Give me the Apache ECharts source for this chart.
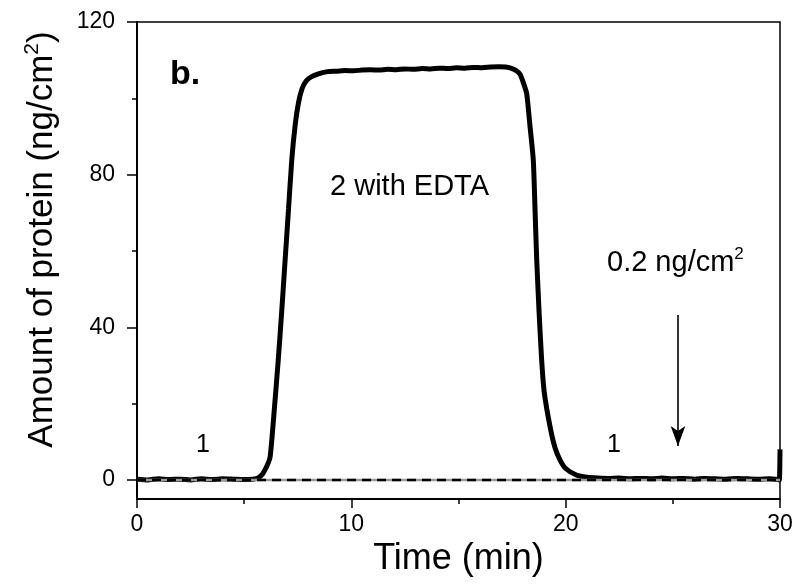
<!DOCTYPE html>
<html>
<head>
<meta charset="utf-8">
<script src="https://cdn.jsdelivr.net/npm/echarts@6/dist/echarts.min.js"></script>
<style>
  html, body { margin: 0; padding: 0; background: #fff; }
  #chart { width: 802px; height: 586px; }
</style>
</head>
<body>
<div id="chart"></div>
<script>
// Adsorbed protein trace: baseline (1), injection with EDTA (2), rinse back to baseline (1)
const timeMin = [
  0, 0.5, 1, 1.5, 2, 2.5, 3, 3.5, 4, 4.5, 5, 5.4, 5.65, 5.85, 6.05, 6.21, 6.4, 6.59, 6.75,
  6.91, 7.07, 7.22, 7.38, 7.53, 7.7, 7.9, 8.15, 8.5, 8.9, 9.3, 9.7, 10.1, 10.5, 10.9, 11.3,
  11.7, 12.1, 12.5, 12.9, 13.3, 13.7, 14.1, 14.5, 14.9, 15.3, 15.7, 16.1, 16.5, 16.9, 17.2,
  17.5, 17.7, 17.87, 18.0, 18.18, 18.33, 18.49, 18.57, 18.65, 18.76, 18.88, 19.0, 19.27,
  19.5, 19.74, 20.0, 20.5, 21.0, 21.5, 22, 22.5, 23, 23.5, 24, 24.5, 25, 25.5, 26, 26.5,
  27, 27.5, 28, 28.5, 29, 29.5, 29.9, 29.97, 30
];
const protein = [
  0.2, 0.0, 0.3, 0.1, 0.2, 0.0, 0.3, 0.1, 0.3, 0.2, 0.1, 0.2, 0.5, 1.5, 3.5, 6.0, 18, 31.4, 44,
  57.6, 71, 83.8, 93, 98.7, 102.5, 104.6, 105.7, 106.5, 107.0, 107.1, 107.3, 107.2, 107.4, 107.5, 107.4,
  107.6, 107.5, 107.7, 107.6, 107.8, 107.7, 107.9, 107.8, 108.0, 107.9, 108.1, 108.0, 108.2, 108.3, 108.2,
  107.8, 107.2, 106.3, 104.5, 101.3, 93, 83.8, 71, 57.6, 44, 31.4, 23, 14,
  8.5, 5.2, 3.0, 1.3, 0.7, 0.5, 0.4, 0.5, 0.3, 0.4, 0.3, 0.5, 0.3, 0.4, 0.2, 0.4,
  0.3, 0.2, 0.4, 0.3, 0.2, 0.3, 0.1, 0.0, 8
];

// Axis ticks
const xMajorTicks = [0, 10, 20, 30];
const yMajorTicks = [0, 40, 80, 120];
const yMinorTicks = [20, 60, 100];

// Annotation arrow (time, amount) start and tip
const arrowTime = 25.24;
const arrowFrom = 43.2;
const arrowTo = 8.9;

const FONT = '"Liberation Sans", Arial, sans-serif';

const chart = echarts.init(document.getElementById('chart'), null, { renderer: 'canvas' });

const traceData = timeMin.map((t, i) => [t, protein[i]]);

// Tick numbers are drawn through a rich style so their size is explicit
const tickRich = {
  v: { fontFamily: FONT, fontSize: 23, color: '#000', lineHeight: 26 }
};

const option = {
  animation: false,
  backgroundColor: '#fff',
  textStyle: { fontFamily: FONT },
  grid: {
    left: 137, right: 22, top: 22, bottom: 87,
    show: true, borderColor: '#000', borderWidth: 1.5, backgroundColor: 'transparent'
  },
  xAxis: {
    type: 'value', min: 0, max: 30, interval: 10,
    name: 'Time (min)', nameLocation: 'middle', nameGap: 40,
    nameTextStyle: { fontFamily: FONT, fontSize: 36, color: '#000' },
    axisLine: { show: true, onZero: false, lineStyle: { color: '#000', width: 2 } },
    axisTick: { show: true, inside: false, length: 9, lineStyle: { color: '#000', width: 1.5 } },
    minorTick: { show: true, splitNumber: 2, length: 5, lineStyle: { color: '#000', width: 1.5 } },
    axisLabel: {
      margin: 13, fontSize: 23, color: '#000',
      formatter: v => '{v|' + v + '}', rich: tickRich
    },
    splitLine: { show: false }, minorSplitLine: { show: false }
  },
  yAxis: [
    {
      type: 'value', min: -5, max: 120,
      name: '{t|Amount of protein (ng/cm}{s|2}{t|)}',
      nameLocation: 'middle', nameGap: 75,
      nameTextStyle: {
        color: '#000', padding: [0, 0, 0, 42],
        rich: {
          t: { fontFamily: FONT, fontSize: 35, color: '#000', lineHeight: 40 },
          s: { fontFamily: FONT, fontSize: 21, color: '#000', lineHeight: 40, verticalAlign: 'top' }
        }
      },
      axisLine: { show: true, onZero: false, lineStyle: { color: '#000', width: 2 } },
      axisTick: { show: true, inside: false, length: 10, customValues: yMajorTicks,
                  lineStyle: { color: '#000', width: 1.5 } },
      axisLabel: {
        margin: 22, fontSize: 23, color: '#000', customValues: yMajorTicks,
        formatter: v => '{v|' + v + '}', rich: tickRich
      },
      splitLine: { show: false }
    },
    {
      type: 'value', min: -5, max: 120, position: 'left',
      axisLine: { show: false },
      axisTick: { show: true, inside: false, length: 5, customValues: yMinorTicks,
                  lineStyle: { color: '#000', width: 1.5 } },
      axisLabel: { show: false },
      splitLine: { show: false }
    }
  ],
  series: [
    {
      name: 'trace', type: 'line', data: traceData, showSymbol: false, smooth: 0.2,
      lineStyle: { color: '#000', width: 5 }, z: 2, clip: true,
      markLine: {
        silent: true, animation: false,
        symbol: ['none', 'arrow'], symbolSize: [11, 20],
        lineStyle: { color: '#000', width: 1.6, type: 'solid' },
        label: { show: false },
        data: [[{ coord: [arrowTime, arrowFrom] }, { coord: [arrowTime, arrowTo] }]]
      }
    },
    {
      name: 'zero-gray', type: 'line', data: [[0, 0], [30, 0]], showSymbol: false,
      lineStyle: { color: '#9a9a9a', width: 2.5 }, z: 3
    },
    {
      name: 'zero-dash', type: 'line', data: [[0, 0], [30, 0]], showSymbol: false,
      lineStyle: { color: '#000', width: 2.5, type: [9, 6] }, z: 4
    }
  ],
  graphic: [
    { type: 'text', left: 170, top: 58, style: { text: 'b.', font: 'bold 34px ' + FONT, fill: '#000' } },
    { type: 'text', left: 330, top: 172, style: { text: '2 with EDTA', font: '29px ' + FONT, fill: '#000' } },
    { type: 'text', left: 196, top: 433, style: { text: '1', font: '25px ' + FONT, fill: '#000' } },
    { type: 'text', left: 607, top: 433, style: { text: '1', font: '25px ' + FONT, fill: '#000' } },
    {
      type: 'text', left: 607, top: 246,
      style: {
        text: '{a|0.2 ng/cm}{s|2}',
        rich: {
          a: { font: '29px ' + FONT, fill: '#000', lineHeight: 34 },
          s: { font: '17px ' + FONT, fill: '#000', lineHeight: 34, verticalAlign: 'top' }
        }
      }
    }
  ]
};

chart.setOption(option);
</script>
</body>
</html>
